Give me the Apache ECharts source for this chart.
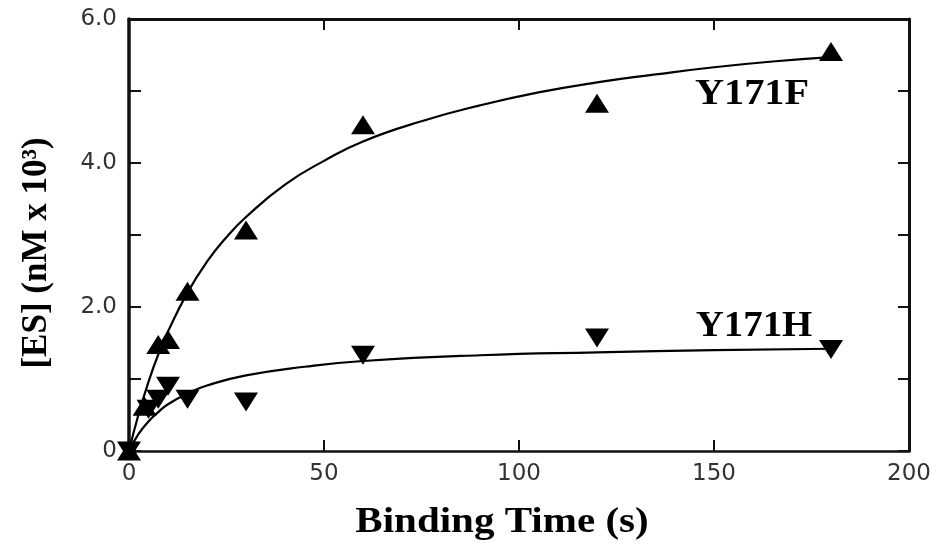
<!DOCTYPE html>
<html>
<head>
<meta charset="utf-8">
<script src="https://cdn.jsdelivr.net/npm/echarts@6/dist/echarts.min.js"></script>
<style>
html,body{margin:0;padding:0;background:#fff;}
#chart{width:939px;height:549px;}
</style>
</head>
<body>
<div id="chart"></div>
<script>
// Measured points (time s, [ES] nM x 10^3)
const y171fPoints = [[0,0],[4,0.62],[7.5,1.48],[10,1.55],[15,2.22],[30,3.07],[60,4.53],[120,4.83],[180,5.55]];
const y171hPoints = [[0,0],[5,0.58],[7.5,0.72],[10,0.9],[15,0.72],[30,0.68],[60,1.33],[120,1.57],[180,1.41]];
// Fitted curves
const y171fCurve = [[0,0],[2.5,0.52],[5,0.96],[7.5,1.34],[10,1.66],[15,2.2],[20,2.63],[25,2.97],[30,3.25],[40,3.7],[50,4.03],[60,4.3],[75,4.58],[90,4.8],[105,4.98],[120,5.12],[135,5.23],[150,5.33],[165,5.41],[180,5.47]];
const y171hCurve = [[0,0],[2.5,0.24],[5,0.41],[7.5,0.54],[10,0.65],[15,0.8],[20,0.91],[30,1.05],[45,1.17],[60,1.25],[90,1.33],[120,1.37],[150,1.4],[180,1.42]];
const xTicks = [0,50,100,150,200];
const yTickLabels = {0:'0',2:'2.0',4:'4.0',6:'6.0'};
const seriesNames = ['Y171F','Y171H'];
const xTitle = 'Binding Time (s)';
const yTitle = '[ES] (nM x 10³)';

const chart = echarts.init(document.getElementById('chart'));
const axisLbl = {fontFamily:'DejaVu Sans', fontSize:23, color:'#333'};
const serif = 'bold 36px "Liberation Serif", "DejaVu Serif", serif';
chart.setOption({
  animation:false,
  backgroundColor:'#fff',
  grid:{left:129, top:19, right:30, bottom:98},
  xAxis:[{
    type:'value', min:xTicks[0], max:xTicks[xTicks.length-1], interval:50,
    axisLine:{onZero:false, lineStyle:{color:'#111', width:2.5}},
    axisTick:{inside:true, length:11, lineStyle:{color:'#111', width:2}},
    splitLine:{show:false},
    axisLabel:Object.assign({margin:12}, axisLbl)
  },{
    type:'value', position:'top', min:0, max:200, interval:50,
    axisLine:{onZero:false, lineStyle:{color:'#111', width:3}},
    axisTick:{inside:true, length:11, lineStyle:{color:'#111', width:2}},
    splitLine:{show:false}, axisLabel:{show:false}
  }],
  yAxis:[{
    type:'value', min:0, max:6, interval:1,
    axisLine:{show:true, onZero:false, lineStyle:{color:'#111', width:3.5}},
    axisTick:{show:true, inside:true, length:12, lineStyle:{color:'#111', width:2}},
    splitLine:{show:false},
    axisLabel:Object.assign({margin:12, formatter:function(v){return yTickLabels[v]!==undefined?yTickLabels[v]:'';}}, axisLbl)
  },{
    type:'value', position:'right', min:0, max:6, interval:1,
    axisLine:{show:true, onZero:false, lineStyle:{color:'#111', width:3}},
    axisTick:{show:true, inside:true, length:11, lineStyle:{color:'#111', width:2}},
    splitLine:{show:false}, axisLabel:{show:false}
  }],
  series:[
    {name:seriesNames[0]+' fit', type:'line', data:y171fCurve, smooth:true, showSymbol:false, lineStyle:{color:'#000', width:2.2}, z:2},
    {name:seriesNames[1]+' fit', type:'line', data:y171hCurve, smooth:true, showSymbol:false, lineStyle:{color:'#000', width:2.2}, z:2},
    {name:seriesNames[0], type:'scatter', data:y171fPoints, symbol:'triangle', symbolSize:[24,19], itemStyle:{color:'#000', opacity:1}, clip:false, z:3},
    {name:seriesNames[1], type:'scatter', data:y171hPoints, symbol:'triangle', symbolRotate:180, symbolSize:[24,19], itemStyle:{color:'#000', opacity:1}, clip:false, z:3}
  ],
  graphic:[
    {type:'text', x:502, y:523, scaleX:1.14, style:{text:xTitle, font:serif, fill:'#000', textAlign:'center', textVerticalAlign:'middle'}},
    {type:'text', x:37, y:253, rotation:Math.PI/2, style:{text:yTitle, font:'bold 35px "Liberation Serif", serif', fill:'#000', textAlign:'center', textVerticalAlign:'middle'}},
    {type:'text', x:752, y:95, scaleX:1.12, style:{text:seriesNames[0], font:serif, fill:'#000', textAlign:'center', textVerticalAlign:'middle'}},
    {type:'text', x:754, y:327, scaleX:1.08, style:{text:seriesNames[1], font:serif, fill:'#000', textAlign:'center', textVerticalAlign:'middle'}}
  ]
});
</script>
</body>
</html>
